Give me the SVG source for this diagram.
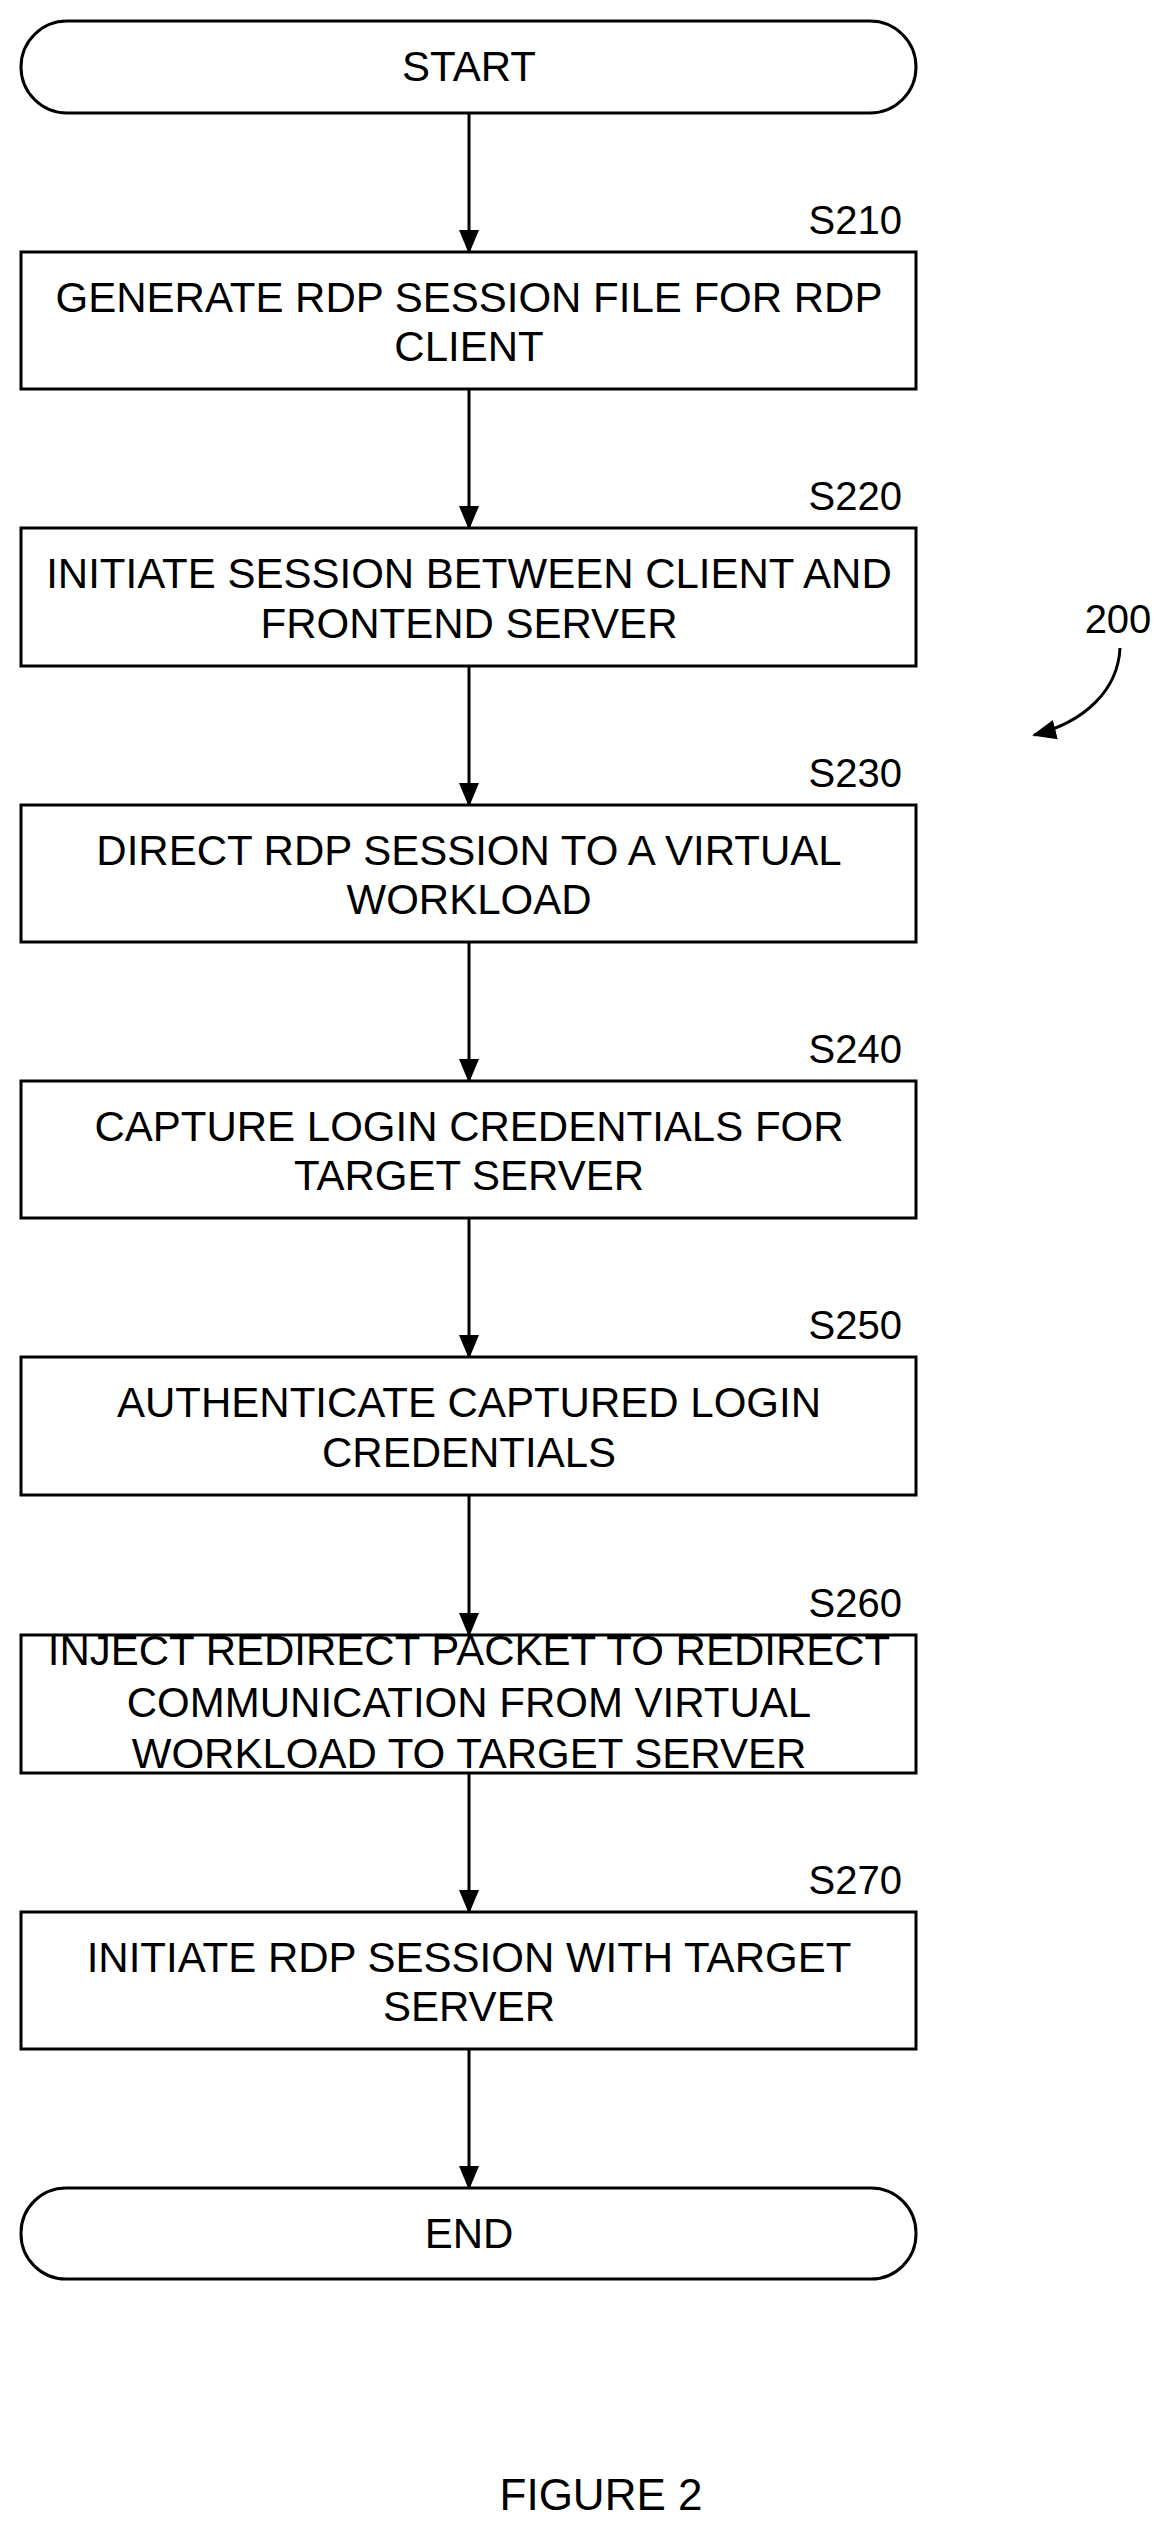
<svg xmlns="http://www.w3.org/2000/svg" width="1170" height="2527" viewBox="0 0 1170 2527">
<style>
.b{fill:#fff;stroke:#000;stroke-width:3}
.t{font-family:"Liberation Sans",Arial,sans-serif;font-size:42px;text-anchor:middle;fill:#000}
.l{font-family:"Liberation Sans",Arial,sans-serif;font-size:40px;text-anchor:end;fill:#000}
.c{stroke:#000;stroke-width:3;fill:none}
</style>
<defs><marker id="a" markerWidth="10" markerHeight="10" refX="9" refY="5" orient="auto" markerUnits="userSpaceOnUse" viewBox="0 0 10 10"><path d="M0,0 L10,5 L0,10z" fill="#000"/></marker>
<marker id="ah" markerWidth="24" markerHeight="24" refX="22" refY="12" orient="auto" markerUnits="userSpaceOnUse" viewBox="0 0 24 24"><path d="M0,2 L24,12 L0,22z" fill="#000"/></marker></defs>
<rect width="1170" height="2527" fill="#fff"/>
<g id="connectors">
<line class="c" x1="469" y1="113" x2="469" y2="252" marker-end="url(#ah)"/>
<line class="c" x1="469" y1="389" x2="469" y2="528" marker-end="url(#ah)"/>
<line class="c" x1="469" y1="666" x2="469" y2="805" marker-end="url(#ah)"/>
<line class="c" x1="469" y1="942" x2="469" y2="1081" marker-end="url(#ah)"/>
<line class="c" x1="469" y1="1218" x2="469" y2="1357" marker-end="url(#ah)"/>
<line class="c" x1="469" y1="1495" x2="469" y2="1635" marker-end="url(#ah)"/>
<line class="c" x1="469" y1="1773" x2="469" y2="1912" marker-end="url(#ah)"/>
<line class="c" x1="469" y1="2049" x2="469" y2="2188" marker-end="url(#ah)"/>
<path class="c" d="M1120,648 C1118,690 1085,722 1034,735" marker-end="url(#ah)"/>
</g>
<g id="start"><rect class="b" x="21" y="21" width="895" height="92" rx="46"/><text class="t" x="469" y="81">START</text></g>
<g id="s210"><text class="l" x="902" y="234">S210</text><rect class="b" x="21" y="252" width="895" height="137"/><text class="t" x="469" y="312">GENERATE RDP SESSION FILE FOR RDP</text><text class="t" x="469" y="361">CLIENT</text></g>
<g id="s220"><text class="l" x="902" y="510">S220</text><rect class="b" x="21" y="528" width="895" height="138"/><text class="t" x="469" y="588">INITIATE SESSION BETWEEN CLIENT AND</text><text class="t" x="469" y="638">FRONTEND SERVER</text></g>
<g id="s230"><text class="l" x="902" y="787">S230</text><rect class="b" x="21" y="805" width="895" height="137"/><text class="t" x="469" y="865">DIRECT RDP SESSION TO A VIRTUAL</text><text class="t" x="469" y="914">WORKLOAD</text></g>
<g id="s240"><text class="l" x="902" y="1063">S240</text><rect class="b" x="21" y="1081" width="895" height="137"/><text class="t" x="469" y="1141">CAPTURE LOGIN CREDENTIALS FOR</text><text class="t" x="469" y="1190">TARGET SERVER</text></g>
<g id="s250"><text class="l" x="902" y="1339">S250</text><rect class="b" x="21" y="1357" width="895" height="138"/><text class="t" x="469" y="1417">AUTHENTICATE CAPTURED LOGIN</text><text class="t" x="469" y="1467">CREDENTIALS</text></g>
<g id="s260"><text class="l" x="902" y="1617">S260</text><rect class="b" x="21" y="1635" width="895" height="138"/><text class="t" x="469" y="1665">INJECT REDIRECT PACKET TO REDIRECT</text><text class="t" x="469" y="1717">COMMUNICATION FROM VIRTUAL</text><text class="t" x="469" y="1768">WORKLOAD TO TARGET SERVER</text></g>
<g id="s270"><text class="l" x="902" y="1894">S270</text><rect class="b" x="21" y="1912" width="895" height="137"/><text class="t" x="469" y="1972">INITIATE RDP SESSION WITH TARGET</text><text class="t" x="469" y="2021">SERVER</text></g>
<g id="end"><rect class="b" x="21" y="2188" width="895" height="91" rx="45"/><text class="t" x="469" y="2248">END</text></g>
<g id="labels"><text class="t" x="1118" y="633" style="font-size:40px">200</text><text class="t" x="601" y="2510" style="font-size:44px">FIGURE 2</text></g>
</svg>
